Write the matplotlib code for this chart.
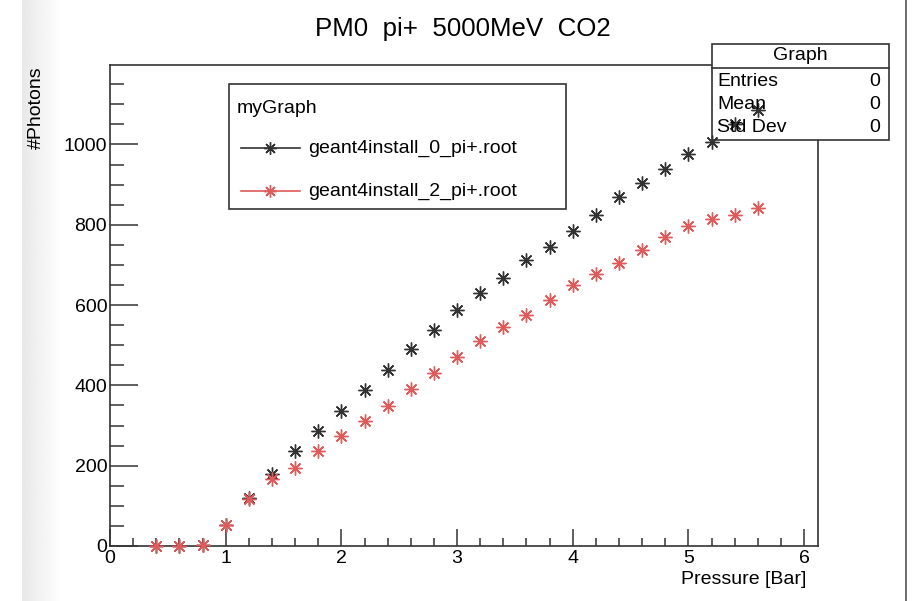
import numpy as np
import matplotlib
matplotlib.use("Agg")
import matplotlib.pyplot as plt
from matplotlib.lines import Line2D
from matplotlib.patches import Rectangle
from matplotlib.ticker import MultipleLocator

plt.rcParams["font.family"] = ["Liberation Sans", "DejaVu Sans"]

# data
pressure = [0.4, 0.6, 0.8, 1.0, 1.2, 1.4, 1.6, 1.8, 2.0, 2.2, 2.4, 2.6, 2.8,
            3.0, 3.2, 3.4, 3.6, 3.8, 4.0, 4.2, 4.4, 4.6, 4.8, 5.0, 5.2, 5.4, 5.6]
photons_0 = [0, 0, 2, 52, 120, 180, 237, 287, 337, 388, 439, 491, 539,
             589, 631, 668, 713, 744, 785, 825, 868, 905, 938, 977, 1007, 1050, 1087]
photons_2 = [0, 0, 2, 52, 118, 167, 195, 237, 274, 312, 349, 391, 431,
             471, 511, 546, 576, 613, 651, 678, 706, 738, 770, 798, 815, 825, 843]
labels = ["geant4install_0_pi+.root", "geant4install_2_pi+.root"]
colors = ["#333333", "#e05a5a"]

W, H = 914, 601
fig = plt.figure(figsize=(W / 100, H / 100), dpi=100)

def fx(px):
    return px / W

def fy(py):
    return 1 - py / H

# grey strip on the left edge
grad = np.linspace(0.91, 1.0, 64).reshape(1, -1)
bg = fig.add_axes([fx(22), 0, fx(40), 1], zorder=-5)
bg.imshow(grad, cmap="gray", vmin=0, vmax=1, aspect="auto")
bg.axis("off")
fig.add_artist(Line2D([fx(906), fx(906)], [0, 1], color="#555555", lw=1.2))

ax = fig.add_axes([fx(110), fy(546), fx(818) - fx(110), fy(65) - fy(546)])
ax.set_xlim(0, 6.12)
ax.set_ylim(0, 1198)

star = (8, 2, 0)
for ys, c in zip([photons_0, photons_2], colors):
    ax.plot(pressure, ys, linestyle="none", marker=star, markersize=10,
            markeredgewidth=1.0, color=c, zorder=6, clip_on=False)

ax.xaxis.set_major_locator(MultipleLocator(1))
ax.xaxis.set_minor_locator(MultipleLocator(0.2))
ax.yaxis.set_major_locator(MultipleLocator(200))
ax.yaxis.set_minor_locator(MultipleLocator(50))
ax.tick_params(axis="x", which="major", direction="in", length=12, width=1.1,
               labelsize=14, pad=3, color="#333333")
ax.tick_params(axis="x", which="minor", direction="in", length=6, width=1.1,
               color="#333333")
ax.tick_params(axis="y", which="major", direction="in", length=20, width=1.1,
               labelsize=14, pad=2, color="#333333")
ax.tick_params(axis="y", which="minor", direction="in", length=10, width=1.1,
               color="#333333")
for s in ax.spines.values():
    s.set_color("#333333")
    s.set_linewidth(1.2)

fig.text(0.5 + 0.006, fy(29), "PM0  pi+  5000MeV  CO2", ha="center", va="center",
         fontsize=18.6)
fig.text(fx(806), fy(580), "Pressure [Bar]", ha="right", va="center", fontsize=14)
fig.text(fx(36), fy(66), "#Photons", rotation=90, ha="center", va="top", fontsize=14)

# legend box
fig.add_artist(Rectangle((fx(229), fy(209)), fx(566) - fx(229), fy(84) - fy(209),
                         facecolor="white", edgecolor="#333333", lw=1.2, zorder=4))
fig.text(fx(237), fy(108), "myGraph", ha="left", va="center", fontsize=14, zorder=5)
for i, (lab, c) in enumerate(zip(labels, colors)):
    yy = fy(148 + 43 * i)
    fig.add_artist(Line2D([fx(241), fx(300)], [yy, yy], color=c, lw=1.2, zorder=5))
    fig.add_artist(Line2D([fx(270)], [yy], color=c, marker=star, markersize=9,
                          linestyle="none", zorder=5))
    fig.text(fx(308), yy, lab, ha="left", va="center", fontsize=14, zorder=5)

# stats box, drawn inside the axes so the markers stay on top of it
tf = fig.transFigure
ax.add_patch(Rectangle((fx(712), fy(140)), fx(889) - fx(712), fy(44) - fy(140),
                       transform=tf, facecolor="white", edgecolor="#333333",
                       lw=1.2, zorder=4, clip_on=False))
ax.add_line(Line2D([fx(712), fx(889)], [fy(68), fy(68)], transform=tf,
                   color="#333333", lw=1.2, zorder=4, clip_on=False))
ax.text(fx(800), fy(56), "Graph", transform=tf, ha="center", va="center",
        fontsize=14, zorder=7)
for i, name in enumerate(["Entries", "Mean", "Std Dev"]):
    yy = fy(82 + 22.5 * i)
    ax.text(fx(717), yy, name, transform=tf, ha="left", va="center",
            fontsize=14, zorder=7)
    ax.text(fx(880), yy, "0", transform=tf, ha="right", va="center",
            fontsize=14, zorder=7)

fig.savefig("out.png", dpi=100)
